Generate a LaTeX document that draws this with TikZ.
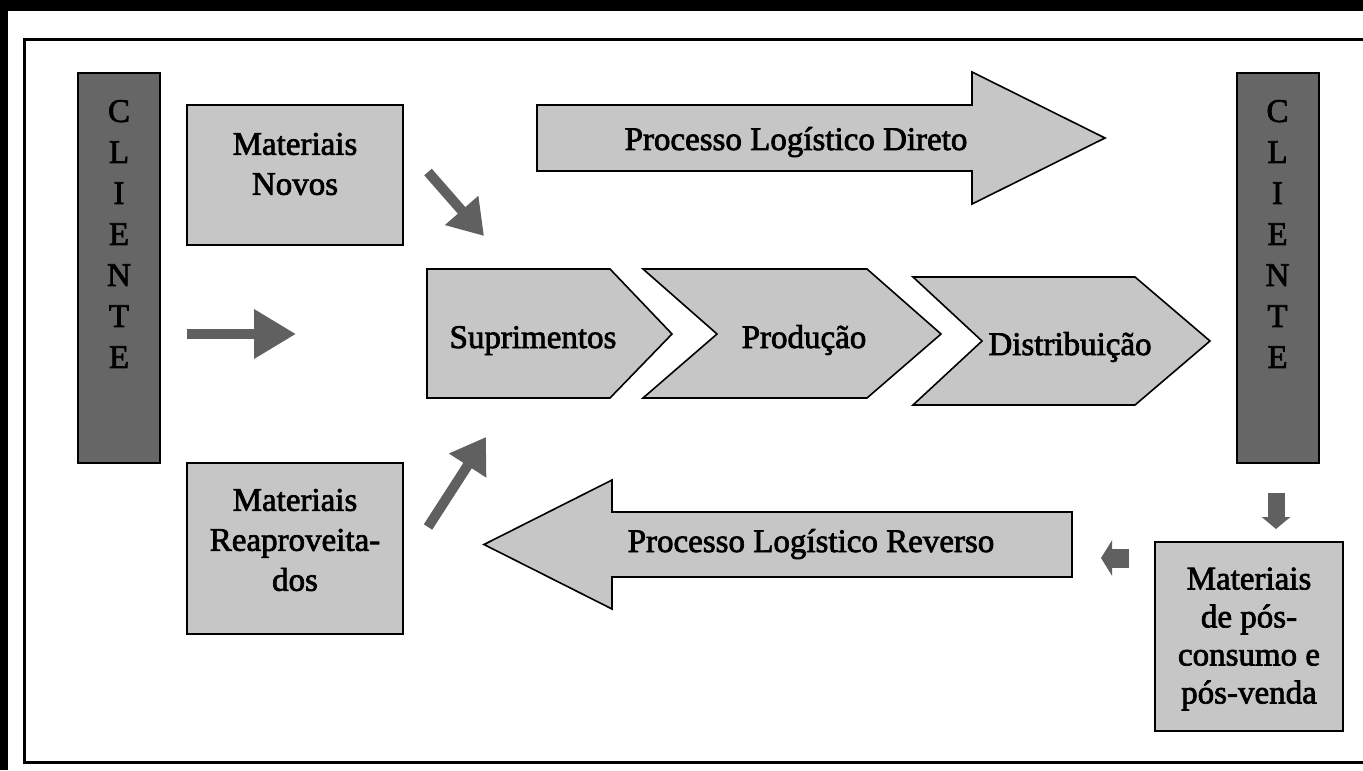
\documentclass[tikz,border=0pt]{standalone}
\usepackage{fontspec}
\setmainfont{Liberation Serif}
\newfontfamily\dfont{Liberation Serif}[FakeBold=2.2]
\usetikzlibrary{arrows.meta}
\definecolor{dark}{HTML}{666666}
\definecolor{light}{HTML}{C6C6C6}
\definecolor{arr}{HTML}{606060}
\tikzset{
  txt/.style={font=\dfont\fontsize{16.5}{20}\selectfont, align=center, inner sep=0pt},
  clientbox/.style={draw=black, line width=1pt, fill=dark, minimum width=41pt, minimum height=195pt, inner sep=0pt},
  matbox/.style={draw=black, line width=1pt, fill=light, inner sep=0pt},
  bigshape/.style={draw=black, line width=0.8pt, fill=light, line join=miter},
  diagarrow/.style={draw=arr, line width=5pt, -{Triangle[length=17pt,width=21pt,fill=arr]}},
}
\begin{document}
\begin{tikzpicture}[x=0.5pt,y=-0.5pt]
\useasboundingbox (0,0) rectangle (1363,770);
\begin{scope}
  \clip (0,0) rectangle (1363,770);
  \fill[black] (0,0) rectangle (1363,11);
  \fill[black] (0,0) rectangle (8,770);
  \draw[line width=1.5pt] (1400,40) -- (24.5,40) -- (24.5,762) -- (1400,762);
\end{scope}

% CLIENTE boxes
\node[clientbox] (clientL) at (119,268) {};
\node[txt, font=\dfont\fontsize{16.5}{20.5}\selectfont] (clientLT) at (119,234) {C\\L\\I\\E\\N\\T\\E};
\node[clientbox] (clientR) at (1277.5,268) {};
\node[txt, font=\dfont\fontsize{16.5}{20.5}\selectfont] (clientRT) at (1277.5,234) {C\\L\\I\\E\\N\\T\\E};

% material boxes
\node[matbox, minimum width=108pt, minimum height=70pt] (novos) at (295,175) {};
\node[txt] (novosT) at (295,164) {Materiais\\Novos};
\node[matbox, minimum width=108pt, minimum height=85.5pt] (reap) at (295,548.5) {};
\node[txt] (reapT) at (295,540) {Materiais\\Reaproveita-\\dos};
\node[matbox, minimum width=94pt, minimum height=94.5pt] (pos) at (1249,636.5) {};
\node[txt, font=\dfont\fontsize{16.5}{19}\selectfont] (posT) at (1249,639) {Materiais\\de pós-\\consumo e\\pós-venda};

% chevrons
\draw[bigshape] (427,269) -- (610,269) -- (672,334) -- (610,398) -- (427,398) -- cycle;
\node[txt, anchor=base] (supr) at (533,348) {Suprimentos};
\draw[bigshape] (643,269) -- (867,269) -- (941,334) -- (867,398) -- (643,398) -- (717,334) -- cycle;
\node[txt, anchor=base] (prod) at (804,348) {Produção};
\draw[bigshape] (913,277) -- (1135,277) -- (1210,341) -- (1135,405) -- (913,405) -- (982,341) -- cycle;
\node[txt, anchor=base] (dist) at (1070,355) {Distribuição};

% big process arrows
\draw[bigshape] (537,105) -- (972,105) -- (972,72) -- (1105,138) -- (972,204) -- (972,171) -- (537,171) -- cycle;
\node[txt, anchor=base] (direto) at (796,150) {Processo Logístico Direto};
\draw[bigshape] (1072,512) -- (612,512) -- (612,480) -- (484,544.5) -- (612,609) -- (612,577) -- (1072,577) -- cycle;
\node[txt, anchor=base] (reverso) at (811,552) {Processo Logístico Reverso};

% small arrows
\coordinate (ra1) at (187,334);
\coordinate (ra2) at (296,334);
\draw[draw=arr, line width=5pt, -{Triangle[length=21pt,width=23.5pt,fill=arr]}] (ra1) -- (ra2);

\coordinate (d1a) at (428,172);
\coordinate (d1b) at (484,236);
\draw[diagarrow] (d1a) -- (d1b);
\coordinate (d2a) at (428,527);
\coordinate (d2b) at (486,437);
\draw[diagarrow] (d2a) -- (d2b);

\coordinate (dn1) at (1276,493);
\coordinate (dn2) at (1276,529);
\draw[draw=arr, line width=8.5pt, -{Triangle[length=6pt,width=14pt,fill=arr]}] (dn1) -- (dn2);
\coordinate (lf1) at (1129,558);
\coordinate (lf2) at (1101,558);
\draw[draw=arr, line width=9.5pt, -{Triangle[length=5.5pt,width=17.5pt,fill=arr]}] (lf1) -- (lf2);
\end{tikzpicture}
\end{document}
